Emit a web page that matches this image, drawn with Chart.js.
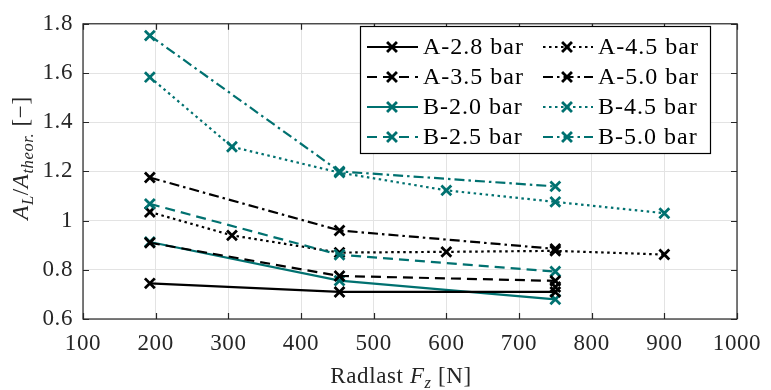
<!DOCTYPE html>
<html>
<head>
<meta charset="utf-8">
<script src="https://cdn.jsdelivr.net/npm/chart.js@4/dist/chart.umd.min.js"></script>
<style>
  html, body { margin: 0; padding: 0; background: #fff; }
  #wrap { width: 771px; height: 390px; position: relative; }
</style>
</head>
<body>
<div id="wrap"><canvas id="c" width="771" height="390"></canvas></div>
<script>
// Radial load F_z [N] and measured area ratio A_L / A_theor. per tyre and pressure
const xTicks = [100, 200, 300, 400, 500, 600, 700, 800, 900, 1000];
const yTicks = [0.6, 0.8, 1.0, 1.2, 1.4, 1.6, 1.8];

const seriesLabels = ['A-2.8 bar', 'A-3.5 bar', 'B-2.0 bar', 'B-2.5 bar',
                      'A-4.5 bar', 'A-5.0 bar', 'B-4.5 bar', 'B-5.0 bar'];

const loadA28 = [192, 453, 750];
const ratioA28 = [0.745, 0.71, 0.71];
const loadA35 = [192, 453, 750, 750];
const ratioA35 = [0.91, 0.775, 0.755, 0.73];
const loadB20 = [192, 453, 750];
const ratioB20 = [0.913, 0.756, 0.68];
const loadB25 = [192, 453, 750];
const ratioB25 = [1.068, 0.861, 0.793];
const loadA45 = [192, 305, 453, 600, 750, 900];
const ratioA45 = [1.035, 0.94, 0.87, 0.873, 0.877, 0.862];
const loadA50 = [192, 453, 750];
const ratioA50 = [1.175, 0.96, 0.885];
const loadB45 = [192, 305, 453, 600, 750, 900];
const ratioB45 = [1.583, 1.30, 1.195, 1.123, 1.076, 1.03];
const loadB50 = [192, 453, 750];
const ratioB50 = [1.752, 1.20, 1.139];

const BLACK = '#000000';
const TEAL = '#007170';
const SOLID = [], DASH = [10, 6], DOT = [2.5, 3.5], DASHDOT = [10, 4, 2.5, 4];

function pts(xs, ys) { return xs.map((x, i) => ({ x: x, y: ys[i] })); }

function ds(label, xs, ys, color, dash) {
  return {
    label: label, data: pts(xs, ys), showLine: true,
    borderColor: color, backgroundColor: color, borderWidth: 2.2, borderDash: dash,
    pointStyle: 'crossRot', pointRadius: 7, pointBorderWidth: 2.8,
    pointBorderColor: color, pointHoverRadius: 7, tension: 0, clip: false
  };
}

const datasets = [
  ds(seriesLabels[0], loadA28, ratioA28, BLACK, SOLID),
  ds(seriesLabels[1], loadA35, ratioA35, BLACK, DASH),
  ds(seriesLabels[2], loadB20, ratioB20, TEAL, SOLID),
  ds(seriesLabels[3], loadB25, ratioB25, TEAL, DASH),
  ds(seriesLabels[4], loadA45, ratioA45, BLACK, DOT),
  ds(seriesLabels[5], loadA50, ratioA50, BLACK, DASHDOT),
  ds(seriesLabels[6], loadB45, ratioB45, TEAL, DOT),
  ds(seriesLabels[7], loadB50, ratioB50, TEAL, DASHDOT)
];

const SERIF = '"Liberation Serif", "DejaVu Serif", serif';
const FS = 23;

// draws a run of text pieces, some italic and some lowered as subscripts
function richText(ctx, parts, x, y, align) {
  const measure = p => {
    ctx.font = (p.it ? 'italic ' : '') + (p.sub ? FS * 0.72 : FS) + 'px ' + SERIF;
    return ctx.measureText(p.t).width;
  };
  const total = parts.reduce((s, p) => s + measure(p), 0);
  let cx = align === 'center' ? x - total / 2 : x;
  ctx.textBaseline = 'alphabetic';
  ctx.textAlign = 'left';
  parts.forEach(p => {
    const w = measure(p);
    ctx.fillText(p.t, cx, y + (p.sub ? 5 : 0));
    cx += w;
  });
}

const framePlugin = {
  id: 'frame',
  beforeDraw(chart) {
    chart.ctx.letterSpacing = '0.6px';
  },
  afterDraw(chart) {
    const ctx = chart.ctx;
    const a = chart.chartArea;
    const xs = chart.scales.x, ys = chart.scales.y;
    ctx.save();
    // axes box with inward ticks on all four sides
    ctx.strokeStyle = '#262626';
    ctx.lineWidth = 1.2;
    ctx.strokeRect(a.left, a.top, a.right - a.left, a.bottom - a.top);
    ctx.beginPath();
    xTicks.forEach(v => {
      const px = Math.round(xs.getPixelForValue(v)) + 0.5;
      ctx.moveTo(px, a.bottom); ctx.lineTo(px, a.bottom - 6);
      ctx.moveTo(px, a.top); ctx.lineTo(px, a.top + 6);
    });
    yTicks.forEach(v => {
      const py = Math.round(ys.getPixelForValue(v)) + 0.5;
      ctx.moveTo(a.left, py); ctx.lineTo(a.left + 6, py);
      ctx.moveTo(a.right, py); ctx.lineTo(a.right - 6, py);
    });
    ctx.stroke();

    // legend in two columns, four rows
    const lx = 360, ly = 26, lw = 350, lh = 127;
    ctx.fillStyle = '#fff';
    ctx.fillRect(lx, ly, lw, lh);
    ctx.strokeStyle = '#000';
    ctx.lineWidth = 1.2;
    ctx.strokeRect(lx + 0.5, ly + 0.5, lw, lh);
    const cols = [{ l0: 367, l1: 418, m: 392, t: 423 }, { l0: 543, l1: 593, m: 567, t: 598 }];
    const rows = [47, 77, 107, 137];
    chart.data.datasets.forEach((d, i) => {
      const c = cols[Math.floor(i / 4)], ry = rows[i % 4];
      ctx.strokeStyle = d.borderColor;
      ctx.lineWidth = d.borderWidth;
      ctx.setLineDash(d.borderDash);
      ctx.beginPath(); ctx.moveTo(c.l0, ry); ctx.lineTo(c.l1, ry); ctx.stroke();
      ctx.setLineDash([]);
      ctx.lineWidth = d.pointBorderWidth;
      const r = d.pointRadius * 0.7071;
      ctx.beginPath();
      ctx.moveTo(c.m - r, ry - r); ctx.lineTo(c.m + r, ry + r);
      ctx.moveTo(c.m - r, ry + r); ctx.lineTo(c.m + r, ry - r);
      ctx.stroke();
      ctx.fillStyle = '#000';
      ctx.font = (FS + 1) + 'px ' + SERIF;
      ctx.letterSpacing = '1px';
      ctx.textAlign = 'left';
      ctx.textBaseline = 'middle';
      ctx.fillText(d.label, c.t, ry + 1);
    });

    // axis titles
    ctx.letterSpacing = '0.6px';
    ctx.fillStyle = '#262626';
    richText(ctx, [{ t: 'Radlast ' }, { t: 'F', it: true }, { t: 'z', it: true, sub: true }, { t: ' [N]' }],
      401, 383, 'center');
    ctx.translate(28, 158);
    ctx.rotate(-Math.PI / 2);
    richText(ctx, [{ t: 'A', it: true }, { t: 'L', it: true, sub: true }, { t: '/' }, { t: 'A', it: true },
      { t: 'theor.', it: true, sub: true }, { t: ' [\u2212]' }], 0, 0, 'center');
    ctx.restore();
  }
};

new Chart(document.getElementById('c'), {
  type: 'scatter',
  data: { datasets: datasets },
  options: {
    responsive: false,
    animation: false,
    layout: { padding: { top: 16, right: 28, left: 0, bottom: 0 } },
    plugins: { legend: { display: false }, tooltip: { enabled: false } },
    scales: {
      x: {
        type: 'linear', min: 100, max: 1000,
        afterBuildTicks: s => { s.ticks = xTicks.map(v => ({ value: v })); },
        afterFit: s => { s.height = 71; },
        grid: { color: '#e3e3e3', lineWidth: 1, drawTicks: false },
        border: { display: false },
        ticks: { color: '#262626', font: { family: SERIF, size: FS }, padding: 11, maxRotation: 0,
                 callback: v => String(v) }
      },
      y: {
        type: 'linear', min: 0.6, max: 1.8,
        afterBuildTicks: s => { s.ticks = yTicks.map(v => ({ value: v })); },
        afterFit: s => { s.width = 83; },
        grid: { color: '#e3e3e3', lineWidth: 1, drawTicks: false },
        border: { display: false },
        ticks: { color: '#262626', font: { family: SERIF, size: FS }, padding: 10,
                 callback: v => (Math.abs(v - 1) < 1e-9 ? '1' : v.toFixed(1)) }
      }
    }
  },
  plugins: [framePlugin]
});
</script>
</body>
</html>
